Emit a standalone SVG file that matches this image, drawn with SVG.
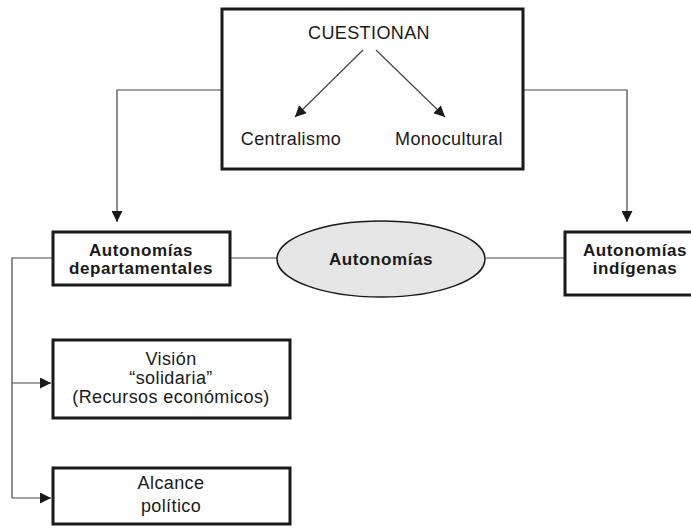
<svg xmlns="http://www.w3.org/2000/svg" width="691" height="528" viewBox="0 0 691 528">
<defs>
<marker id="ah" viewBox="0 0 10 10" refX="10" refY="5" markerWidth="12" markerHeight="11" markerUnits="userSpaceOnUse" orient="auto">
<path d="M0,0 L10,5 L0,10 z" fill="#1a1a1a"/>
</marker>
</defs>
<style>
.box{fill:#fff;stroke:#1a1a1a;stroke-width:3}
.t{font-family:"Liberation Sans",Arial,sans-serif;font-size:18px;letter-spacing:0.4px;fill:#1a1a1a;text-anchor:middle}
.b{font-family:"Liberation Sans",Arial,sans-serif;font-size:17px;letter-spacing:0.6px;font-weight:bold;fill:#1a1a1a;text-anchor:middle}
.ln{fill:none;stroke:#444;stroke-width:1.2}
</style>
<rect width="691" height="528" fill="#fff"/>
<g id="connectors">
<polyline class="ln" points="222,90 117,90 117,222" marker-end="url(#ah)"/>
<polyline class="ln" points="523,90 627,90 627,222" marker-end="url(#ah)"/>
<line class="ln" x1="230" y1="258" x2="277" y2="258"/>
<line class="ln" x1="486" y1="258" x2="565" y2="258"/>
<polyline class="ln" points="53,258 12,258 12,498"/>
<line class="ln" x1="12" y1="383" x2="51" y2="383" marker-end="url(#ah)"/>
<line class="ln" x1="12" y1="498" x2="51" y2="498" marker-end="url(#ah)"/>
</g>
<g id="cuestionan">
<rect class="box" x="222" y="9" width="301" height="160"/>
<text class="t" x="369" y="39">CUESTIONAN</text>
<line class="ln" x1="363" y1="50" x2="295" y2="117" marker-end="url(#ah)"/>
<line class="ln" x1="376" y1="50" x2="445" y2="117" marker-end="url(#ah)"/>
<text class="t" x="291" y="145">Centralismo</text>
<text class="t" x="449" y="145">Monocultural</text>
</g>
<g id="departamentales">
<rect class="box" x="53" y="232" width="177" height="53"/>
<text class="b" x="141" y="256">Autonomías</text>
<text class="b" x="141" y="274">departamentales</text>
</g>
<g id="autonomias">
<ellipse cx="381" cy="259" rx="104" ry="38" fill="#e6e6e6" stroke="#1a1a1a" stroke-width="1.5"/>
<text class="b" x="381" y="265">Autonomías</text>
</g>
<g id="indigenas">
<rect class="box" x="565" y="232" width="140" height="63"/>
<text class="b" x="635" y="256">Autonomías</text>
<text class="b" x="635" y="274">indígenas</text>
</g>
<g id="vision">
<rect class="box" x="53" y="340" width="237" height="78"/>
<text class="t" x="171" y="365">Visión</text>
<text class="t" x="171" y="384">“solidaria”</text>
<text class="t" x="171" y="403">(Recursos económicos)</text>
</g>
<g id="alcance">
<rect class="box" x="53" y="468" width="237" height="56"/>
<text class="t" x="171" y="489">Alcance</text>
<text class="t" x="171" y="512">político</text>
</g>
</svg>
